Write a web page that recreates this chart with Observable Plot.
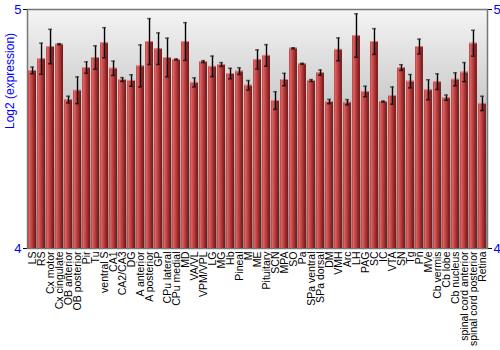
<!DOCTYPE html>
<html><head><meta charset="utf-8">
<script src="https://cdn.jsdelivr.net/npm/d3@7"></script>
<script src="https://cdn.jsdelivr.net/npm/@observablehq/plot@0.6"></script>
<style>
body{margin:0;background:#fff;}
g[aria-label^="y-axis"] text{fill:#0000ff;font-size:13px;}
</style>
</head><body><div id="chart"></div>
<script>
const regions = ["LS","RS","Cx motor","Cx cingulate","OB anterior","OB posterior","Pir","Tu","ventral S","CA1","CA2/CA3","DG","A anterior","A posterior","GP","CPu lateral","CPu medial","MD","VA/VL","VPM/VPL","LG","MG","Hb","Pineal","M","ME","Pituitary","SCN","MPA","SO","Pa","SPa ventral","SPa dorsal","DM","VMH","Arc","LH","PAG","SC","IC","VTA","SN","Tg","Pn","MVe","Cb vermis","Cb lobe","Cb nucleus","spinal cord anterior","spinal cord posterior","Retina"];
const values = [4.745,4.794,4.845,4.855,4.623,4.662,4.757,4.799,4.861,4.754,4.707,4.703,4.764,4.866,4.836,4.799,4.791,4.866,4.695,4.782,4.762,4.770,4.732,4.742,4.683,4.791,4.808,4.619,4.707,4.838,4.773,4.703,4.736,4.615,4.833,4.612,4.891,4.657,4.866,4.615,4.640,4.757,4.700,4.845,4.664,4.698,4.631,4.708,4.738,4.859,4.607];
const errors = [0.014,0.065,0.072,0.002,0.014,0.056,0.024,0.049,0.063,0.030,0.008,0.024,0.088,0.096,0.066,0.081,0.002,0.079,0.019,0.004,0.043,0.008,0.022,0.014,0.020,0.040,0.045,0.037,0.026,0.002,0.002,0.004,0.011,0.009,0.048,0.011,0.091,0.022,0.054,0.002,0.036,0.012,0.028,0.031,0.042,0.033,0.011,0.027,0.040,0.054,0.030];
const yTicks = [4, 5];
const yLabel = "Log2 (expression)";

const data = regions.map((r, i) => ({region: r, value: values[i], err: errors[i]}));

const chart = Plot.plot({
  width: 500, height: 350,
  marginLeft: 27, marginRight: 13, marginTop: 9, marginBottom: 102,
  style: {fontFamily: "'Liberation Sans', Arial, sans-serif", fontSize: "10.5px", background: "white", color: "black"},
  x: {domain: regions, padding: 0.12, label: null, tickRotate: -90, tickSize: 0, tickPadding: 3},
  y: {domain: [4, 5], ticks: yTicks, label: null, axis: "both", tickSize: 4, tickPadding: 2, tickFormat: d3.format("d")},
  marks: [
    Plot.frame({fill: "url(#bgGrad)", stroke: "#777", strokeWidth: 1.5}),
    Plot.barY(data, {x: "region", y1: 4, y2: "value", fill: "url(#barGrad)"}),
    Plot.tickY(data, {x: "region", y: "value", stroke: "#e49a9a", strokeWidth: 1, strokeOpacity: 0.8}),
    Plot.ruleX(data, {x: "region", y1: d => d.value - d.err, y2: d => d.value + d.err, stroke: "black", strokeWidth: 1.4}),
    Plot.tickY(data, {x: "region", y: d => d.value + d.err, stroke: "#333", strokeOpacity: 0.75, strokeWidth: 1.5, insetLeft: 2, insetRight: 2}),
    Plot.tickY(data, {x: "region", y: d => d.value - d.err, stroke: "#111", strokeOpacity: 0.85, strokeWidth: 1.5, insetLeft: 2, insetRight: 2}),
    Plot.text([yLabel], {frameAnchor: "left", rotate: -90, dx: -17, fill: "#0000ff", fontSize: 12})
  ]
});

d3.select(chart).insert("defs", ":first-child").html(`
  <linearGradient id="bgGrad" x1="0" y1="0" x2="0" y2="1">
    <stop offset="0" stop-color="#f4f4f4"/>
    <stop offset="1" stop-color="#8a8a8a"/>
  </linearGradient>
  <linearGradient id="barGrad" x1="0" y1="0" x2="1" y2="0">
    <stop offset="0" stop-color="#b84040"/>
    <stop offset="0.18" stop-color="#d86262"/>
    <stop offset="0.45" stop-color="#c04242"/>
    <stop offset="1" stop-color="#6e1414"/>
  </linearGradient>`);

document.getElementById("chart").appendChild(chart);
</script>
</body></html>
